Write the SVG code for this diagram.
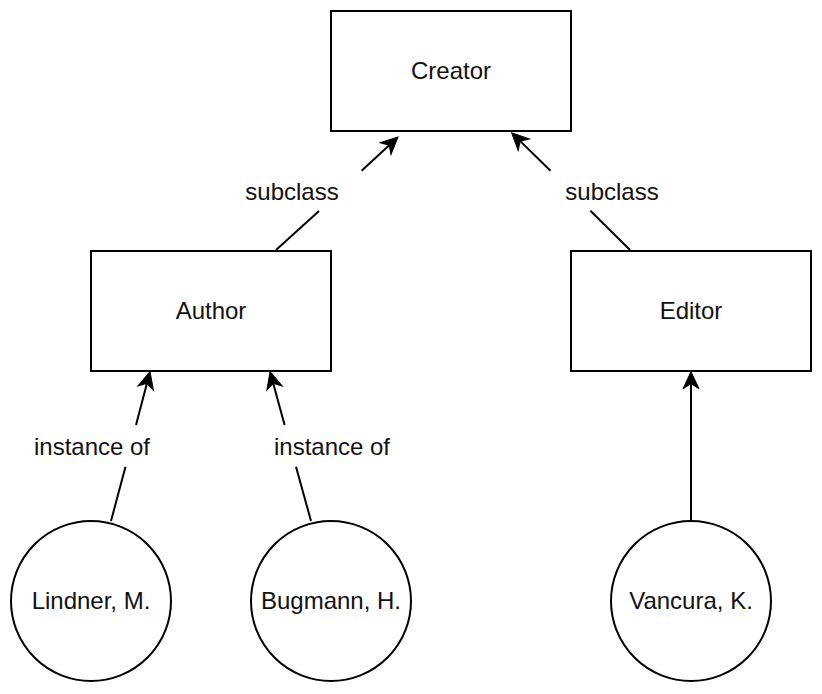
<svg xmlns="http://www.w3.org/2000/svg" width="822" height="694" viewBox="0 0 822 694">
<defs>
<style>
.box{fill:#fff;stroke:#000;stroke-width:2}
.lbl{font-family:"Liberation Sans",Arial,sans-serif;font-size:24px;fill:#111;text-anchor:middle}
.edge{fill:none;stroke:#000;stroke-width:2}
</style>
<marker id="arr" markerUnits="userSpaceOnUse" markerWidth="40" markerHeight="40" refX="0" refY="0" orient="auto" overflow="visible" viewBox="-20 -20 40 40">
<path d="M12,0 L-5,-8 L0,0 L-5,8 Z" fill="#000" stroke="#000" stroke-width="1" stroke-linejoin="miter"/>
</marker>
</defs>
<rect width="822" height="694" fill="#fff"/>
<g id="connectors">
<line class="edge" x1="276" y1="250" x2="319" y2="211"/>
<line class="edge" x1="361.6" y1="170.7" x2="389.2" y2="145.15" marker-end="url(#arr)"/>
<text class="lbl" x="292" y="200">subclass</text>
<line class="edge" x1="630" y1="250" x2="590.4" y2="210.7"/>
<line class="edge" x1="550.5" y1="170.7" x2="520.2" y2="141.15" marker-end="url(#arr)"/>
<text class="lbl" x="612" y="200">subclass</text>
<line class="edge" x1="111" y1="521" x2="125.5" y2="466.7"/>
<line class="edge" x1="136" y1="425" x2="146.97" y2="383.3" marker-end="url(#arr)"/>
<text class="lbl" x="92" y="455">instance of</text>
<line class="edge" x1="311" y1="521" x2="296" y2="466.7"/>
<line class="edge" x1="284.6" y1="425" x2="273.2" y2="383.3" marker-end="url(#arr)"/>
<text class="lbl" x="332" y="455">instance of</text>
<line class="edge" x1="691" y1="521" x2="691" y2="383.7" marker-end="url(#arr)"/>
</g>
<g id="creator">
<rect class="box" x="331" y="11" width="240" height="120"/>
<text class="lbl" x="451" y="79">Creator</text>
</g>
<g id="author">
<rect class="box" x="91" y="251" width="240" height="120"/>
<text class="lbl" x="211" y="319">Author</text>
</g>
<g id="editor">
<rect class="box" x="571" y="251" width="240" height="120"/>
<text class="lbl" x="691" y="319">Editor</text>
</g>
<g id="lindner">
<circle class="box" cx="91" cy="601" r="80"/>
<text class="lbl" x="91" y="609">Lindner, M.</text>
</g>
<g id="bugmann">
<circle class="box" cx="331" cy="601" r="80"/>
<text class="lbl" x="331" y="609">Bugmann, H.</text>
</g>
<g id="vancura">
<circle class="box" cx="691" cy="601" r="80"/>
<text class="lbl" x="691" y="609">Vancura, K.</text>
</g>
</svg>
